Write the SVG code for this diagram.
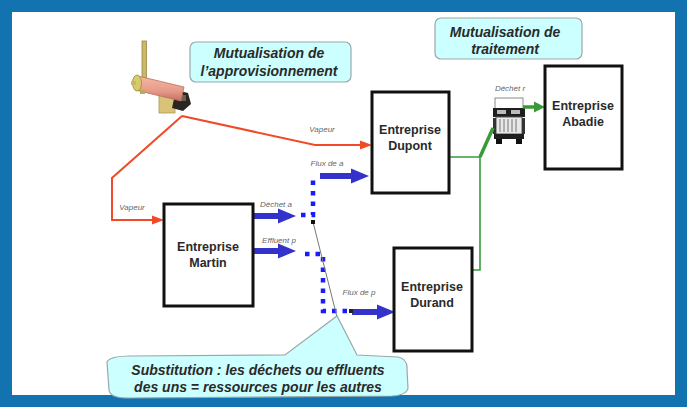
<svg xmlns="http://www.w3.org/2000/svg" width="687" height="407" viewBox="0 0 687 407">
  <style>
    .frame { fill: #ffffff; stroke: #1372b0; stroke-width: 12; }
    .box { fill: #ffffff; stroke: #111111; stroke-width: 3; }
    .boxtxt { font-family: "Liberation Sans", Arial, sans-serif; font-size: 12.5px; font-weight: bold; fill: #2a2a2a; text-anchor: middle; }
    .note { fill: #ccffff; stroke: #9aa8a8; stroke-width: 1.2; }
    .notetxt { font-family: "Liberation Sans", Arial, sans-serif; font-size: 14px; font-weight: bold; font-style: italic; fill: #2a2a2a; text-anchor: middle; }
    .lbl { font-family: "Liberation Sans", Arial, sans-serif; font-size: 8px; font-style: italic; fill: #666666; text-anchor: middle; }
    .steam { fill: none; stroke: #f04a28; stroke-width: 2; }
    .flow { fill: none; stroke: #3333cc; stroke-width: 6; }
    .dots { fill: none; stroke: #1a1aff; stroke-width: 4.5; stroke-dasharray: 4.5 6; }
    .green { fill: none; stroke: #3a9a3a; stroke-width: 1.6; }
    .greenthick { fill: none; stroke: #3a9a3a; stroke-width: 3.5; }
    .pointer { fill: none; stroke: #777777; stroke-width: 1; }
  </style>
  <defs>
    <marker id="headRed" markerUnits="userSpaceOnUse" markerWidth="12" markerHeight="10" refX="0" refY="5" orient="auto">
      <path d="M0,0.5 L12,5 L0,9.5 z" fill="#f04a28"/>
    </marker>
    <marker id="headBlue" markerUnits="userSpaceOnUse" markerWidth="18" markerHeight="16" refX="0" refY="8" orient="auto">
      <path d="M0,0.5 L18,8 L0,15.5 z" fill="#3333cc"/>
    </marker>
    <marker id="headGreen" markerUnits="userSpaceOnUse" markerWidth="11" markerHeight="12" refX="0" refY="6" orient="auto">
      <path d="M0,0.5 L11,6 L0,11.5 z" fill="#3a9a3a"/>
    </marker>
    <linearGradient id="shell" x1="0" y1="0" x2="0" y2="1">
      <stop offset="0" stop-color="#f4b8a4"/>
      <stop offset="0.6" stop-color="#e8998a"/>
      <stop offset="1" stop-color="#c07060"/>
    </linearGradient>
  </defs>

  <!-- page frame -->
  <rect class="frame" x="6" y="6" width="675" height="395"/>

  <!-- steam boiler -->
  <g id="boiler">
    <!-- stack -->
    <rect x="142" y="41" width="4.5" height="38" fill="#c9b86a" stroke="#9a8a40" stroke-width="0.8"/>
    <!-- support plate -->
    <rect x="159" y="91" width="16" height="22" fill="#d9c27a" stroke="#b09a50" stroke-width="0.8"/>
    <!-- burner end -->
    <path d="M176,90 L188,93 L191,104 L183,111 L172,108 Z" fill="#2a2520"/>
    <rect x="178" y="95" width="8" height="6" fill="#6a6050"/>
    <!-- shell -->
    <path d="M138,76 L184,87 L181,101 L135,90 Z" fill="url(#shell)" stroke="#b8705c" stroke-width="0.8"/>
    <!-- front cap -->
    <ellipse cx="137" cy="83" rx="4.5" ry="8" fill="#d8cc6a" stroke="#9a8a40" stroke-width="0.8"/>
    <rect x="131" y="81" width="5" height="4" fill="#c9b86a"/>
    <rect x="140" y="90" width="5" height="4" fill="#b8a860"/>
  </g>

  <!-- truck -->
  <g id="truck">
    <rect x="495" y="98" width="28" height="11" fill="#ffffff" stroke="#8a8a8a" stroke-width="1"/>
    <rect x="493" y="108" width="32" height="9" fill="#1e1e1e"/>
    <rect x="497" y="110" width="9" height="4" fill="#bbbbbb"/>
    <rect x="511" y="110" width="9" height="4" fill="#bbbbbb"/>
    <rect x="496" y="117" width="26" height="17" fill="#e8e8e8" stroke="#555555" stroke-width="1"/>
    <path d="M500,119 V132 M504,119 V132 M508,119 V132 M512,119 V132 M516,119 V132" stroke="#777777" stroke-width="1"/>
    <rect x="493" y="118" width="3" height="16" fill="#333333"/>
    <rect x="522" y="118" width="3" height="16" fill="#333333"/>
    <rect x="494" y="134" width="30" height="5" fill="#1e1e1e"/>
    <rect x="496" y="139" width="6" height="5" fill="#111111"/>
    <rect x="516" y="139" width="6" height="5" fill="#111111"/>
  </g>

  <!-- connectors -->
  <g id="connectors">
    <!-- steam supply -->
    <polyline class="steam" points="182,116 315,145 360,145" marker-end="url(#headRed)"/>
    <polyline class="steam" points="182,116 112,178 112,220 152,220" marker-end="url(#headRed)"/>

    <!-- material flows -->
    <line class="flow" x1="253" y1="216" x2="278" y2="216" marker-end="url(#headBlue)"/>
    <line class="flow" x1="253" y1="251" x2="278" y2="251" marker-end="url(#headBlue)"/>
    <line class="flow" x1="320" y1="176" x2="351" y2="176" marker-end="url(#headBlue)"/>
    <line class="flow" x1="352" y1="312" x2="377" y2="312" marker-end="url(#headBlue)"/>

    <!-- substitution routes -->
    <polyline class="dots" points="301,215 313,215 313,180"/>
    <polyline class="dots" points="305,254 323,254 323,311 350,311"/>

    <!-- treatment link -->
    <polyline class="green" points="449,157 480,157 480,270 472,270"/>
    <line class="greenthick" x1="480" y1="157" x2="493" y2="128"/>
    <line class="greenthick" x1="523" y1="107" x2="534" y2="107" marker-end="url(#headGreen)"/>

    <!-- callout pointer line -->
    <line class="pointer" x1="337" y1="317" x2="313" y2="222"/>
    <rect x="311" y="220" width="4" height="4" fill="#111111"/>
    <rect x="349" y="309" width="4" height="4" fill="#222222"/>

    <!-- flow labels -->
    <text class="lbl" x="322" y="132">Vapeur</text>
    <text class="lbl" x="132" y="210">Vapeur</text>
    <text class="lbl" x="327" y="166">Flux de a</text>
    <text class="lbl" x="276" y="207">Déchet a</text>
    <text class="lbl" x="279" y="243">Effluent p</text>
    <text class="lbl" x="359" y="295">Flux de p</text>
    <text class="lbl" x="510" y="91">Déchet  r</text>
  </g>

  <!-- companies -->
  <g id="dupont">
    <rect class="box" x="372" y="92" width="77" height="101"/>
    <text class="boxtxt" x="410" y="134">Entreprise</text>
    <text class="boxtxt" x="410" y="150">Dupont</text>
  </g>
  <g id="martin">
    <rect class="box" x="164" y="204" width="89" height="102"/>
    <text class="boxtxt" x="208" y="251">Entreprise</text>
    <text class="boxtxt" x="208" y="267">Martin</text>
  </g>
  <g id="durand">
    <rect class="box" x="394" y="248" width="78" height="103"/>
    <text class="boxtxt" x="432" y="291">Entreprise</text>
    <text class="boxtxt" x="432" y="307">Durand</text>
  </g>
  <g id="abadie">
    <rect class="box" x="545" y="66" width="77" height="103"/>
    <text class="boxtxt" x="583" y="110">Entreprise</text>
    <text class="boxtxt" x="583" y="126">Abadie</text>
  </g>

  <!-- notes -->
  <g id="note-supply">
    <rect class="note" x="190" y="42" width="161" height="40" rx="6"/>
    <text class="notetxt" x="269" y="58">Mutualisation de</text>
    <text class="notetxt" x="269" y="76">l’approvisionnement</text>
  </g>
  <g id="note-treatment">
    <rect class="note" x="435" y="18" width="147" height="41" rx="6"/>
    <text class="notetxt" x="505" y="37">Mutualisation de</text>
    <text class="notetxt" x="505" y="54">traitement</text>
  </g>
  <g id="note-substitution">
    <path class="note" d="M107,362 Q110,356 130,356 L285,355 L337,316 L357,355 L398,357 Q408,359 407,370 L408,388 Q407,395 392,396 L128,398 Q110,398 109,390 Z"/>
    <text class="notetxt" x="258" y="375">Substitution : les déchets ou effluents</text>
    <text class="notetxt" x="258" y="392">des uns = ressources pour les autres</text>
  </g>
</svg>
